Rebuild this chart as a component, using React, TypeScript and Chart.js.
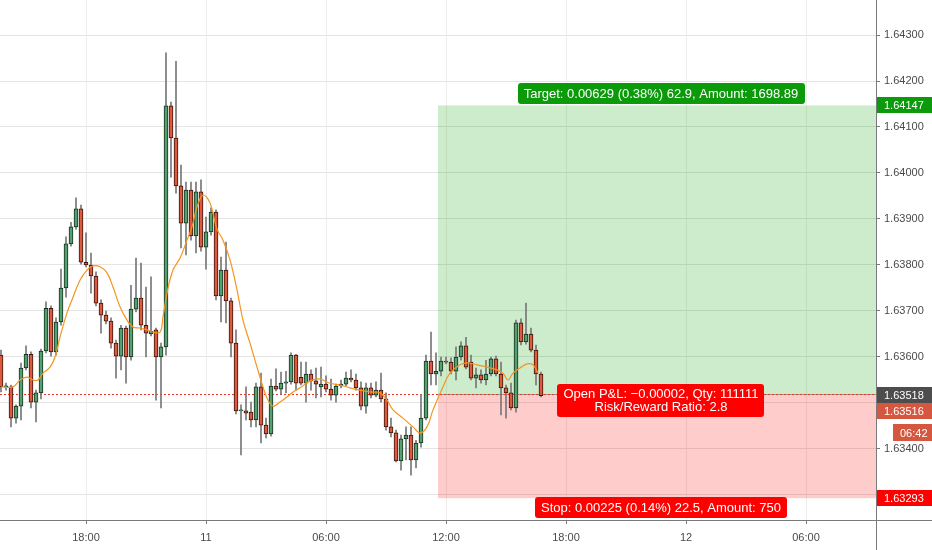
import React, { useEffect, useRef } from 'react';
import { Chart, registerables } from 'chart.js';

Chart.register(...registerables);

// ---- data (15-minute candles, index = candle slot) ----
const opens = [
  1.63604, 1.63535, 1.63535, 1.63467, 1.63493, 1.63576, 1.63606, 1.63502, 1.63522, 1.63613,
  1.63706, 1.63611, 1.63676, 1.63750, 1.63846, 1.63883, 1.63922, 1.63806, 1.63800, 1.63776,
  1.63717, 1.63691, 1.63678, 1.63630, 1.63602, 1.63663, 1.63600, 1.63704, 1.63728, 1.63669,
  1.63650, 1.63659, 1.63600, 1.63622, 1.64146, 1.64076, 1.63972, 1.63891, 1.63963, 1.63863,
  1.63959, 1.63839, 1.63872, 1.63915, 1.63733, 1.63789, 1.63722, 1.63630, 1.63483, 1.63483,
  1.63480, 1.63463, 1.63535, 1.63452, 1.63433, 1.63537, 1.63530, 1.63543, 1.63546, 1.63604,
  1.63556, 1.63543, 1.63563, 1.63548, 1.63535, 1.63541, 1.63530, 1.63517, 1.63537, 1.63541,
  1.63554, 1.63550, 1.63533, 1.63493, 1.63533, 1.63517, 1.63528, 1.63509, 1.63448, 1.63435,
  1.63374, 1.63422, 1.63430, 1.63376, 1.63413, 1.63467, 1.63591, 1.63563, 1.63569, 1.63591,
  1.63589, 1.63569, 1.63600, 1.63624, 1.63589, 1.63554, 1.63561, 1.63550, 1.63563, 1.63596,
  1.63563, 1.63533, 1.63522, 1.63489, 1.63674, 1.63633, 1.63650, 1.63615, 1.63563,
];
const highs = [
  1.63615, 1.63543, 1.63539, 1.63496, 1.63587, 1.63624, 1.63611, 1.63528, 1.63617, 1.63720,
  1.63711, 1.63685, 1.63791, 1.63861, 1.63893, 1.63946, 1.63930, 1.63870, 1.63826, 1.63785,
  1.63724, 1.63700, 1.63685, 1.63637, 1.63669, 1.63667, 1.63756, 1.63815, 1.63804, 1.63752,
  1.63774, 1.63663, 1.63630, 1.64261, 1.64154, 1.64243, 1.64017, 1.63980, 1.63980, 1.63980,
  1.63985, 1.63904, 1.63924, 1.63920, 1.63817, 1.63850, 1.63728, 1.63659, 1.63496, 1.63535,
  1.63502, 1.63543, 1.63565, 1.63467, 1.63552, 1.63574, 1.63567, 1.63569, 1.63609, 1.63606,
  1.63589, 1.63589, 1.63572, 1.63576, 1.63578, 1.63559, 1.63552, 1.63541, 1.63550, 1.63567,
  1.63572, 1.63563, 1.63546, 1.63543, 1.63543, 1.63546, 1.63565, 1.63522, 1.63467, 1.63441,
  1.63430, 1.63448, 1.63448, 1.63419, 1.63519, 1.63604, 1.63654, 1.63609, 1.63600, 1.63600,
  1.63598, 1.63622, 1.63633, 1.63643, 1.63604, 1.63576, 1.63572, 1.63593, 1.63600, 1.63602,
  1.63589, 1.63539, 1.63543, 1.63680, 1.63683, 1.63717, 1.63663, 1.63626, 1.63567,
];
const lows = [
  1.63524, 1.63528, 1.63448, 1.63456, 1.63463, 1.63572, 1.63489, 1.63459, 1.63509, 1.63609,
  1.63602, 1.63604, 1.63669, 1.63730, 1.63841, 1.63878, 1.63802, 1.63796, 1.63739, 1.63711,
  1.63652, 1.63672, 1.63619, 1.63554, 1.63572, 1.63543, 1.63593, 1.63698, 1.63659, 1.63600,
  1.63646, 1.63506, 1.63489, 1.63604, 1.63991, 1.63956, 1.63837, 1.63822, 1.63854, 1.63826,
  1.63830, 1.63791, 1.63865, 1.63724, 1.63676, 1.63674, 1.63600, 1.63476, 1.63387, 1.63463,
  1.63448, 1.63448, 1.63413, 1.63424, 1.63428, 1.63526, 1.63519, 1.63522, 1.63541, 1.63528,
  1.63539, 1.63502, 1.63528, 1.63511, 1.63513, 1.63524, 1.63506, 1.63502, 1.63533, 1.63537,
  1.63546, 1.63528, 1.63485, 1.63478, 1.63511, 1.63513, 1.63502, 1.63441, 1.63426, 1.63372,
  1.63354, 1.63376, 1.63343, 1.63359, 1.63404, 1.63463, 1.63539, 1.63539, 1.63559, 1.63585,
  1.63563, 1.63550, 1.63593, 1.63574, 1.63550, 1.63533, 1.63543, 1.63539, 1.63559, 1.63559,
  1.63474, 1.63467, 1.63485, 1.63480, 1.63626, 1.63628, 1.63611, 1.63539, 1.63513,
];
const closes = [
  1.63535, 1.63537, 1.63467, 1.63493, 1.63576, 1.63606, 1.63502, 1.63522, 1.63613, 1.63706,
  1.63611, 1.63676, 1.63750, 1.63846, 1.63883, 1.63922, 1.63806, 1.63800, 1.63776, 1.63717,
  1.63691, 1.63678, 1.63630, 1.63602, 1.63663, 1.63600, 1.63704, 1.63728, 1.63669, 1.63652,
  1.63656, 1.63600, 1.63622, 1.64146, 1.64076, 1.63972, 1.63891, 1.63963, 1.63863, 1.63959,
  1.63839, 1.63872, 1.63915, 1.63733, 1.63789, 1.63722, 1.63630, 1.63483, 1.63485, 1.63478,
  1.63463, 1.63535, 1.63452, 1.63433, 1.63537, 1.63530, 1.63543, 1.63546, 1.63604, 1.63543,
  1.63543, 1.63563, 1.63548, 1.63541, 1.63541, 1.63530, 1.63517, 1.63537, 1.63541, 1.63554,
  1.63550, 1.63533, 1.63493, 1.63533, 1.63517, 1.63528, 1.63509, 1.63448, 1.63435, 1.63374,
  1.63422, 1.63430, 1.63376, 1.63413, 1.63467, 1.63591, 1.63563, 1.63569, 1.63591, 1.63589,
  1.63569, 1.63600, 1.63624, 1.63578, 1.63554, 1.63561, 1.63550, 1.63563, 1.63596, 1.63563,
  1.63533, 1.63522, 1.63489, 1.63674, 1.63633, 1.63650, 1.63615, 1.63563, 1.63516,
];

// moving-average line (candle slot, price)
const maSlots = [
  0, 2.4, 3.8, 5.2, 6.4, 7.4, 8.4, 9.8, 10.8, 11.8, 13.2, 14.4, 15.8, 17.2, 18.4, 19.8, 21.2, 22.4,
  23.8, 25.2, 26.4, 27.8, 29.2, 30.4, 31.8, 32.4, 33.2, 34.4, 35.8, 37.2, 38.2, 39.2, 40.4, 41.8,
  43.2, 44.4, 45.8, 47.2, 48.4, 49.8, 51.2, 52.4, 53.2, 54.4, 55.8, 57.2, 58.4, 59.8, 61.8, 63.8,
  65.8, 67.8, 69.8, 71.8, 73.8, 75.8, 77.2, 78.4, 80.4, 82.4, 83.8, 85.2, 86.4, 88.4, 89.8, 91.8,
  93.2, 95.2, 97.2, 99.2, 100.4, 101.4, 102.4, 103.8, 105.2, 106.4, 107.4,
];
const maValues = [
  1.63535, 1.63535, 1.63550, 1.63556, 1.63550, 1.63550, 1.63565, 1.63578, 1.63600, 1.63643, 1.63696,
  1.63730, 1.63767, 1.63789, 1.63798, 1.63796, 1.63783, 1.63752, 1.63709, 1.63680, 1.63665, 1.63663,
  1.63659, 1.63654, 1.63654, 1.63687, 1.63739, 1.63789, 1.63815, 1.63854, 1.63883, 1.63926, 1.63952,
  1.63935, 1.63878, 1.63854, 1.63811, 1.63746, 1.63680, 1.63630, 1.63578, 1.63535, 1.63511, 1.63493,
  1.63502, 1.63513, 1.63524, 1.63533, 1.63548, 1.63552, 1.63543, 1.63539, 1.63533, 1.63528, 1.63524,
  1.63522, 1.63506, 1.63485, 1.63467, 1.63448, 1.63435, 1.63448, 1.63485, 1.63535, 1.63565, 1.63583,
  1.63587, 1.63583, 1.63578, 1.63572, 1.63565, 1.63550, 1.63565, 1.63576, 1.63585, 1.63583, 1.63565,
];

const timeTickSlots = [17, 41, 65, 89, 113, 137, 161];
const timeTickLabels = ['18:00', '11', '06:00', '12:00', '18:00', '12', '06:00'];

const priceMin = 1.632456;
const priceMax = 1.643761;
const slotMin = -0.2;
const slotMax = 175;

const entryPrice = 1.63518;
const targetPrice = 1.64147;
const stopPrice = 1.63293;
const lastPrice = 1.63516;
const positionStartSlot = 87.4;
const labelCenterSlot = 132.0;
const targetText = 'Target: 0.00629 (0.38%) 62.9, Amount: 1698.89';
const pnlLines = ['Open P&L: \u22120.00002, Qty: 111111', 'Risk/Reward Ratio: 2.8'];
const stopText = 'Stop: 0.00225 (0.14%) 22.5, Amount: 750';
const countdownText = '06:42';

const FONT = '"Liberation Sans", Arial, sans-serif';
const UP = '#55a070';
const DOWN = '#dd5a3e';
const UP_BORDER = '#15301f';
const DOWN_BORDER = '#3a140c';
const AXIS_TEXT = '#4a4a4a';

const overlayPlugin = {
  id: 'overlay',
  beforeDatasetsDraw(chart: any) {
    const { ctx, chartArea: a, scales } = chart;
    const xs = scales.x;
    const ys = scales.y;
    const x0 = xs.getPixelForValue(positionStartSlot);
    const yT = ys.getPixelForValue(targetPrice);
    const yE = ys.getPixelForValue(entryPrice);
    const yS = ys.getPixelForValue(stopPrice);
    ctx.save();
    ctx.beginPath();
    ctx.rect(a.left, a.top, a.right - a.left, a.bottom - a.top);
    ctx.clip();
    ctx.fillStyle = 'rgba(0,160,0,0.2)';
    ctx.fillRect(x0, yT, a.right - x0, yE - yT);
    ctx.fillStyle = 'rgba(255,0,0,0.2)';
    ctx.fillRect(x0, yE, a.right - x0, yS - yE);
    const ye = Math.round(yE) - 0.5;
    ctx.lineWidth = 1;
    ctx.strokeStyle = 'rgba(80,80,80,0.5)';
    ctx.beginPath();
    ctx.moveTo(x0, ye);
    ctx.lineTo(a.right, ye);
    ctx.stroke();
    ctx.setLineDash([2, 2]);
    ctx.strokeStyle = '#f2331f';
    ctx.beginPath();
    ctx.moveTo(a.left, ye);
    ctx.lineTo(a.right, ye);
    ctx.stroke();
    ctx.restore();
  },
  afterDraw(chart: any) {
    const { ctx, chartArea: a, scales } = chart;
    const xs = scales.x;
    const ys = scales.y;
    const W = chart.width;
    const H = chart.height;
    const cx = xs.getPixelForValue(labelCenterSlot);
    const yT = ys.getPixelForValue(targetPrice);
    const yE = ys.getPixelForValue(entryPrice);
    const yS = ys.getPixelForValue(stopPrice);
    ctx.save();

    // axis lines
    ctx.strokeStyle = '#7a7a7a';
    ctx.lineWidth = 1;
    ctx.beginPath();
    ctx.moveTo(Math.round(a.right) + 0.5, 0);
    ctx.lineTo(Math.round(a.right) + 0.5, H);
    ctx.moveTo(0, Math.round(a.bottom) + 0.5);
    ctx.lineTo(W, Math.round(a.bottom) + 0.5);
    ctx.stroke();

    // in-chart labels
    ctx.font = `13px ${FONT}`;
    ctx.textAlign = 'center';
    ctx.textBaseline = 'middle';
    const box = (text: string[], color: string, top: number, h: number) => {
      const w = Math.max(...text.map((t) => ctx.measureText(t).width)) + 12;
      ctx.fillStyle = color;
      ctx.beginPath();
      ctx.roundRect(Math.round(cx - w / 2), top, Math.round(w), h, 3);
      ctx.fill();
      ctx.fillStyle = '#ffffff';
      const lh = 13;
      const start = top + h / 2 - ((text.length - 1) * lh) / 2 + 0.5;
      text.forEach((t, i) => ctx.fillText(t, cx, start + i * lh));
    };
    box([targetText], '#0a9a0a', Math.round(yT) - 22, 21);
    box(pnlLines, '#ff0000', Math.round(yE) - 11, 33);
    box([stopText], '#ff0000', Math.round(yS) - 1, 21);

    // right axis price labels
    ctx.font = `11px ${FONT}`;
    ctx.textAlign = 'left';
    const right = (text: string, color: string, yc: number, x = a.right + 1, h = 16) => {
      ctx.fillStyle = color;
      ctx.fillRect(x, Math.round(yc - h / 2), W - x, h);
      ctx.fillStyle = '#ffffff';
      ctx.fillText(text, Math.max(x + 7, a.right + 8), Math.round(yc) + 0.5);
    };
    right(targetPrice.toFixed(5), '#0b9a0b', yT);
    right(entryPrice.toFixed(5), '#4d4d4d', yE);
    right(lastPrice.toFixed(5), '#d6573f', yE + 16.5);
    right(countdownText, '#d6573f', yE + 38, a.right + 17, 17);
    right(stopPrice.toFixed(5), '#ff0000', yS);
    ctx.restore();
  },
};

export default function App() {
  const ref = useRef<HTMLCanvasElement>(null);
  useEffect(() => {
    document.body.style.margin = '0';
    const upDown = opens.map((o, i) => closes[i] >= o);
    const chart = new Chart(ref.current as HTMLCanvasElement, {
      type: 'bar',
      data: {
        datasets: [
          {
            type: 'line',
            label: 'MA',
            data: maSlots.map((s, i) => ({ x: s, y: maValues[i] })),
            borderColor: '#f7941d',
            borderWidth: 1.2,
            pointRadius: 0,
            tension: 0.4,
            order: 0,
          } as any,
          {
            type: 'bar',
            label: 'body',
            data: opens.map((o, i) => ({ x: i, y: [o, closes[i]] })),
            backgroundColor: upDown.map((u) => (u ? UP : DOWN)),
            borderColor: upDown.map((u) => (u ? UP_BORDER : DOWN_BORDER)),
            borderWidth: 1,
            borderSkipped: false,
            barThickness: 4,
            minBarLength: 1,
            grouped: false,
            order: 1,
          } as any,
          {
            type: 'bar',
            label: 'wick',
            data: lows.map((l, i) => ({ x: i, y: [l, highs[i]] })),
            backgroundColor: '#777777',
            barThickness: 1,
            grouped: false,
            order: 2,
          } as any,
        ],
      },
      options: {
        responsive: false,
        animation: false,
        devicePixelRatio: 1,
        layout: { padding: 0 },
        plugins: { legend: { display: false }, tooltip: { enabled: false } },
        scales: {
          x: {
            type: 'linear',
            min: slotMin,
            max: slotMax,
            offset: false,
            afterBuildTicks: (s: any) => {
              s.ticks = timeTickSlots.map((v) => ({ value: v }));
            },
            afterFit: (s: any) => {
              s.height = 30;
              s.paddingLeft = 0;
              s.paddingRight = 0;
            },
            ticks: {
              autoSkip: false,
              maxRotation: 0,
              padding: 7,
              color: AXIS_TEXT,
              font: { family: FONT, size: 11 },
              callback: (v: any) => timeTickLabels[timeTickSlots.indexOf(v)] ?? '',
            },
            grid: { color: '#ededed', tickLength: 4, tickColor: '#7a7a7a', offset: false },
            border: { display: false },
          },
          y: {
            type: 'linear',
            position: 'right',
            min: priceMin,
            max: priceMax,
            afterFit: (s: any) => {
              s.width = 56;
              s.paddingTop = 0;
              s.paddingBottom = 0;
            },
            ticks: {
              stepSize: 0.001,
              includeBounds: false,
              padding: 4,
              color: AXIS_TEXT,
              font: { family: FONT, size: 11 },
              callback: (v: any) => Number(v).toFixed(5),
            },
            grid: { color: '#e4e4e4', tickLength: 4, tickColor: '#7a7a7a' },
            border: { display: false },
          },
        },
      } as any,
      plugins: [overlayPlugin],
    });
    return () => chart.destroy();
  }, []);
  return (
    <div style={{ position: 'fixed', left: 0, top: 0, width: 932, height: 550, background: '#ffffff' }}>
      <canvas ref={ref} width={932} height={550} style={{ display: 'block' }} />
    </div>
  );
}
